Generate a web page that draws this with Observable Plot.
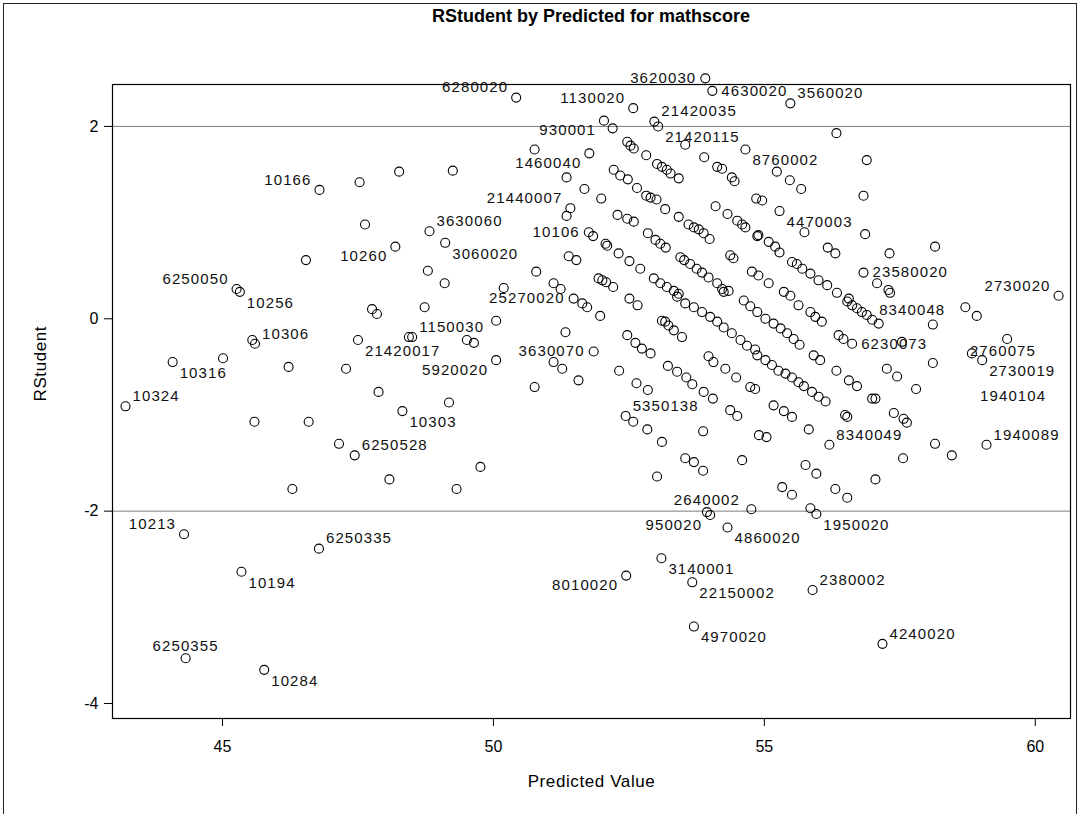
<!DOCTYPE html>
<html>
<head>
<meta charset="utf-8">
<script src="https://cdn.jsdelivr.net/npm/d3@7"></script>
<script src="https://cdn.jsdelivr.net/npm/@observablehq/plot@0.6"></script>
<style>
  html, body { margin: 0; padding: 0; background: #fff; }
  #page { position: relative; width: 1079px; height: 814px; overflow: hidden; font-family: "Liberation Sans", Arial, sans-serif; }
  #edge { position: absolute; left: 3px; top: 3px; width: 1072px; height: 1000px; border-left: 1px solid #222; border-top: 1px solid #222; border-right: 1px solid #222; }
  #title { position: absolute; left: 112px; width: 958px; top: 6px; text-align: center; font-weight: bold; font-size: 18px; color: #000; }
  #chart { position: absolute; left: 0; top: 0; }
</style>
</head>
<body>
<div id="page">
  <div id="chart"></div>
  <div id="edge"></div>
  <div id="title">RStudent by Predicted for mathscore</div>
</div>
<script>
// Axis ticks and reference lines
const tickPred = [45, 50, 55, 60];
const tickRstu = [-4, -2, 0, 2];
const refLines = [-2, 2];

// Observations carrying an ID label
const labelIds = ["10166","10260","3630060","6250050","10256","10306","21420017","1150030","10316","10324",
  "10303","6250528","10213","6250335","10194","6250355","10284","6280020","1130020","21420035",
  "21420115","930001","1460040","21440007","10106","3060020","25270020","5920020","3630070","5350138",
  "2640002","950020","4860020","3140001","8010020","22150002","4970020","1950020","2380002","4240020",
  "3560020","8760002","4470003","23580020","2730020","8340048","6230073","2760075","2730019","1940089",
  "8340049","3620030","4630020","1940104"];
const labelPred = [46.79,48.19,48.82,45.26,45.32,45.60,47.50,48.50,44.08,43.21,
  48.32,47.44,44.29,46.78,45.35,44.32,45.77,50.42,52.58,52.97,
  53.04,52.04,51.77,51.42,51.76,49.11,51.48,50.05,51.85,52.44,
  53.94,54.00,54.32,53.10,52.45,53.67,53.70,55.96,55.89,57.18,
  55.48,54.65,55.28,56.83,60.43,56.99,56.62,58.83,59.02,59.10,
  56.20,53.91,54.04,59.48];
const labelRstu = [1.34,0.75,0.91,0.31,0.28,-0.26,-0.22,-0.19,-0.45,-0.91,
  -0.96,-1.42,-2.24,-2.39,-2.63,-3.53,-3.65,2.30,2.19,2.05,
  2.00,2.06,1.72,1.15,0.90,0.79,0.21,-0.43,-0.34,-1.01,
  -2.01,-2.04,-2.17,-2.49,-2.67,-2.74,-3.20,-2.03,-2.82,-3.38,
  2.24,1.76,1.12,0.48,0.24,-0.01,-0.26,-0.36,-0.43,-1.31,
  -1.31,2.50,2.37,-0.21];

// Remaining observations
const predicted = [
  47.53,48.26,47.63,46.54,48.79,47.76,47.85,48.73,45.55,48.44,45.01,46.22,47.28,47.88,45.59,46.59,47.15,48.08,46.29,
  49.18,49.76,49.32,49.51,49.64,50.05,50.76,51.11,51.27,51.33,51.57,51.64,51.73,51.97,52.32,52.47,52.62,52.74,52.90,
  52.51,52.66,52.64,52.85,52.58,52.84,53.11,53.02,53.11,53.17,53.23,53.33,53.48,53.22,53.39,53.56,53.67,53.88,54.05,
  53.97,54.06,54.28,54.48,54.37,54.50,54.74,54.83,53.87,53.54,53.70,53.87,54.59,54.90,53.39,53.54,53.70,53.85,54.00,
  54.13,54.25,54.40,54.56,54.68,54.83,54.25,54.62,54.74,54.76,55.85,
  52.20,50.76,49.25,51.35,51.68,51.99,51.35,51.84,52.07,52.10,51.39,51.53,50.79,49.10,50.19,51.11,51.24,51.94,52.01,
  52.08,52.21,
  52.47,52.53,52.59,52.82,53.02,53.11,53.20,53.27,53.42,53.54,53.89,54.13,54.22,54.40,54.45,
  52.22,52.34,52.48,52.65,52.82,52.90,53.01,53.17,53.42,53.60,53.70,53.79,53.88,53.99,54.10,54.32,54.50,54.59,54.65,
  54.87,54.85,
  52.29,52.47,52.59,52.85,52.99,53.08,53.18,53.45,53.52,53.63,53.75,53.85,53.97,54.13,54.22,54.34,54.37,54.43,54.77,
  52.31,52.51,52.71,52.96,53.08,53.20,53.33,53.42,
  56.33,56.89,55.23,55.47,55.68,54.96,56.83,55.74,56.86,56.17,56.31,57.31,58.15,54.89,55.08,55.20,55.28,55.51,55.60,
  55.70,55.85,56.00,56.16,56.34,56.56,57.08,57.29,57.32,54.89,55.08,55.36,55.48,
  55.63,55.85,55.94,56.06,56.53,56.62,56.71,56.80,56.89,57.11,58.11,58.71,58.92,54.87,55.02,55.17,55.30,55.42,55.54,
  55.65,56.37,56.46,57.54,58.11,55.91,56.03,54.87,55.02,55.14,55.26,55.39,55.51,55.63,55.73,55.88,56.00,56.13,
  56.33,56.56,56.71,57.26,57.45,57.80,56.99,57.05,55.17,55.36,55.51,56.49,56.53,57.39,57.57,57.63,55.82,55.04,58.15,
  57.56,58.46,55.76,55.96,57.05,55.33,55.51,56.31,56.53];
const rstudent = [
  1.42,1.53,0.98,0.61,0.50,0.10,0.05,0.12,-0.22,-0.19,-0.41,-0.50,-0.52,-0.76,-1.07,-1.07,-1.30,-1.67,-1.77,
  -0.87,-1.54,-1.77,-0.22,-0.25,-0.02,-0.71,-0.45,-0.52,-0.14,-0.64,0.16,0.12,0.03,-0.54,-0.17,-0.25,-0.31,-0.36,
  0.21,0.14,-0.67,-0.74,-1.07,-1.15,-1.28,-1.64,-0.02,-0.03,-0.07,-0.12,-0.19,-0.49,-0.55,-0.61,-0.68,-0.76,-0.83,
  -0.39,-0.45,-0.52,-0.61,-0.95,-1.01,-0.71,-0.73,-1.17,-1.45,-1.49,-1.58,-1.47,-1.21,0.23,0.16,0.12,0.07,0.02,
  -0.03,-0.09,-0.15,-0.22,-0.28,-0.32,0.28,0.19,0.13,-1.98,-1.97,
  1.98,1.76,1.54,1.47,1.35,1.25,1.07,0.86,0.78,0.76,0.65,0.61,0.49,0.37,0.32,0.37,0.31,0.42,0.40,
  0.38,0.33,
  1.84,1.80,1.77,1.70,1.61,1.58,1.55,1.51,1.46,1.81,1.68,1.58,1.56,1.47,1.43,
  1.55,1.49,1.45,1.36,1.28,1.26,1.24,1.14,1.06,0.98,0.95,0.93,0.89,0.83,1.17,1.09,1.02,0.98,0.95,
  0.86,1.25,
  1.08,1.04,1.01,0.89,0.82,0.78,0.74,0.64,0.61,0.57,0.52,0.48,0.43,0.37,0.31,0.29,0.66,0.63,0.49,
  0.68,0.60,0.52,0.42,0.37,0.33,0.29,0.26,
  1.93,1.65,1.53,1.44,1.35,1.23,1.28,0.90,0.88,0.74,0.68,0.68,0.75,0.87,0.80,0.75,0.69,0.59,0.57,
  0.52,0.47,0.40,0.35,0.27,0.21,0.37,0.30,0.27,0.45,0.37,0.28,0.24,
  0.14,0.07,0.02,-0.03,0.18,0.14,0.11,0.07,0.04,-0.05,-0.06,0.12,0.03,0.07,0.00,-0.05,-0.10,-0.15,-0.21,
  -0.27,-0.17,-0.21,-0.24,-0.46,-0.38,-0.43,-0.38,-0.43,-0.48,-0.54,-0.57,-0.61,-0.66,-0.70,-0.76,-0.81,-0.86,
  -0.54,-0.64,-0.70,-0.52,-0.60,-0.73,-0.83,-0.83,-0.90,-0.96,-1.02,-1.00,-1.02,-0.98,-1.04,-1.08,-1.15,-1.23,-1.30,
  -1.45,-1.42,-1.52,-1.61,-1.67,-1.75,-1.83,-1.77,-1.86];

// Where each ID label sits around its point
const labelSide = {
  "10166":"nw","10260":"sw","3630060":"ne","6250050":"nw","10256":"se","10306":"ne","21420017":"se",
  "1150030":"ne","10316":"se","10324":"ne","10303":"se","6250528":"ne","10213":"nw","6250335":"ne",
  "10194":"se","6250355":"n","10284":"se","6280020":"nw","1130020":"nw","21420035":"ne","21420115":"se",
  "930001":"sw","1460040":"sw","21440007":"nw","10106":"w","3060020":"se","25270020":"w","5920020":"sw",
  "3630070":"w","5350138":"ne","2640002":"n","950020":"sw","4860020":"se","3140001":"se","8010020":"sw",
  "22150002":"se","4970020":"se","1950020":"se","2380002":"ne","4240020":"ne","3560020":"ne","8760002":"se",
  "4470003":"se","23580020":"e","2730020":"nw","8340048":"ne","6230073":"e","2760075":"on","2730019":"se",
  "1940089":"ne","8340049":"ne","3620030":"w","4630020":"e","1940104":"below"
};
const sideStyle = {
  nw: {textAnchor: "end", dx: -8, dy: -10},
  sw: {textAnchor: "end", dx: -8, dy: 10},
  ne: {textAnchor: "start", dx: 7, dy: -10},
  se: {textAnchor: "start", dx: 7, dy: 11},
  e:  {textAnchor: "start", dx: 9, dy: 0},
  w:  {textAnchor: "end", dx: -9, dy: 0},
  n:  {textAnchor: "middle", dx: 0, dy: -12},
  on: {textAnchor: "start", dx: -2, dy: -2},
  below: {textAnchor: "start", dx: -27, dy: 57}
};

const points = predicted.map((p, i) => ({pred: p, rstu: rstudent[i]}));
const labelled = labelIds.map((id, i) => ({id, pred: labelPred[i], rstu: labelRstu[i], side: labelSide[id]}));

const labelMarks = Object.entries(sideStyle).map(([side, s]) =>
  Plot.text(labelled.filter(d => d.side === side), {
    x: "pred", y: "rstu", text: "id", fontSize: 15, fill: "#111",
    textAnchor: s.textAnchor, dx: s.dx, dy: s.dy
  })
);

const chart = Plot.plot({
  width: 1079,
  height: 814,
  marginLeft: 112,
  marginRight: 9,
  marginTop: 84,
  marginBottom: 96,
  style: {fontFamily: "'Liberation Sans', Arial, sans-serif", fontSize: "15px", background: "transparent", color: "#000", overflow: "visible"},
  x: {domain: [42.97, 60.65]},
  y: {domain: [-4.156, 2.436]},
  marks: [
    Plot.ruleY(refLines, {stroke: "#7f7f7f", strokeWidth: 1}),
    Plot.dot(points, {x: "pred", y: "rstu", r: 4.5, stroke: "#000", strokeWidth: 1.1, fill: "none"}),
    Plot.dot(labelled, {x: "pred", y: "rstu", r: 4.5, stroke: "#000", strokeWidth: 1.1, fill: "none"}),
    ...labelMarks,
    Plot.axisX({ticks: tickPred, tickSize: 8, tickPadding: 14, fontSize: 16, label: null, stroke: "#000", tickFormat: d => String(d)}),
    Plot.axisY({ticks: tickRstu, tickSize: 8, tickPadding: 6, fontSize: 16, label: null, stroke: "#000", tickFormat: d => String(d)}),
    Plot.text(["Predicted Value"], {frameAnchor: "bottom", dy: 68, fontSize: 17, text: d => d}),
    Plot.text(["RStudent"], {frameAnchor: "left", dx: -72, rotate: -90, fontSize: 17, text: d => d}),
    Plot.frame({stroke: "#000", strokeWidth: 1.2})
  ]
});

// ID labels are set a little wider, in the manner of the listing font
d3.select(chart).selectAll('g[aria-label="text"] text')
  .filter(function () { return /^\d+$/.test(this.textContent); })
  .style("letter-spacing", "1.1px");
d3.select(chart).selectAll('g[aria-label="text"] text')
  .filter(function () { return /[A-Za-z]/.test(this.textContent); })
  .style("letter-spacing", "0.6px");

document.getElementById("chart").appendChild(chart);
</script>
</body>
</html>
